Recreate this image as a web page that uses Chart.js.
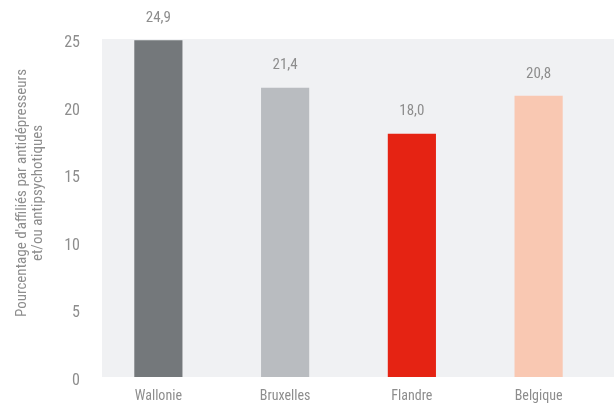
<!DOCTYPE html>
<html>
<head>
<meta charset="utf-8">
<script src="https://cdn.jsdelivr.net/npm/chart.js@4"></script>
<style>
  html, body { margin: 0; padding: 0; background: #fff; }
  #wrap { width: 614px; height: 406px; }
</style>
</head>
<body>
<div id="wrap"><canvas id="c" width="614" height="406"></canvas></div>
<script>
// données
const regions = ["Wallonie", "Bruxelles", "Flandre", "Belgique"];
const valeurs = [24.9, 21.4, 18.0, 20.8];
const couleurs = ["#74787b", "#b9bcc0", "#e52313", "#f9c8b2"];
const titreAxe = ["Pourcentage d'affiliés par antidépresseurs", "et/ou antipsychotiques"];

const police = "'Liberation Sans Narrow', 'Roboto Condensed', Roboto, sans-serif";
const gris = "#8d8d8d";

// fond gris de la zone du graphique
const fondZone = {
  id: "fondZone",
  beforeDraw(chart) {
    const { ctx, chartArea } = chart;
    ctx.save();
    ctx.fillStyle = "#f0f1f3";
    ctx.fillRect(chartArea.left + 7, chartArea.top, chart.width - chartArea.left - 7, chartArea.bottom - chartArea.top);
    ctx.restore();
  }
};

// valeurs au-dessus des barres + titre de l'axe Y
const etiquettes = {
  id: "etiquettes",
  afterDatasetsDraw(chart) {
    const { ctx, chartArea } = chart;
    const meta = chart.getDatasetMeta(0);
    ctx.save();
    ctx.font = "15px " + police;
    ctx.fillStyle = gris;
    ctx.textAlign = "center";
    ctx.textBaseline = "middle";
    meta.data.forEach((bar, i) => {
      ctx.fillText(valeurs[i].toFixed(1).replace(".", ","), bar.x, bar.y - 22);
    });

    // titre Y (2 lignes, vertical)
    const cy = (chartArea.top + chartArea.bottom) / 2 - 15;
    ctx.font = "15px " + police;
    ctx.translate(22, cy);
    ctx.rotate(-Math.PI / 2);
    titreAxe.forEach((t, i) => ctx.fillText(t, 0, i * 16));
    ctx.restore();
  }
};

new Chart(document.getElementById("c"), {
  type: "bar",
  data: {
    labels: regions,
    datasets: [{
      data: valeurs,
      backgroundColor: couleurs,
      barPercentage: 0.38,
      categoryPercentage: 1
    }]
  },
  options: {
    responsive: false,
    animation: false,
    layout: { padding: { top: 39, right: 12, left: 0, bottom: 0 } },
    plugins: {
      legend: { display: false },
      tooltip: { enabled: false }
    },
    scales: {
      x: {
        afterFit(scale) { scale.height = 29; },
        grid: { display: false, drawTicks: false },
        border: { display: false },
        ticks: { color: gris, font: { family: police, size: 14 }, padding: 11 }
      },
      y: {
        min: 0,
        max: 25,
        afterFit(scale) { scale.width = 95; },
        grid: { display: false, drawTicks: false },
        border: { display: false },
        ticks: { stepSize: 5, color: gris, font: { family: police, size: 16 }, padding: 15, labelOffset: 4 }
      }
    }
  },
  plugins: [fondZone, etiquettes]
});
</script>
</body>
</html>
